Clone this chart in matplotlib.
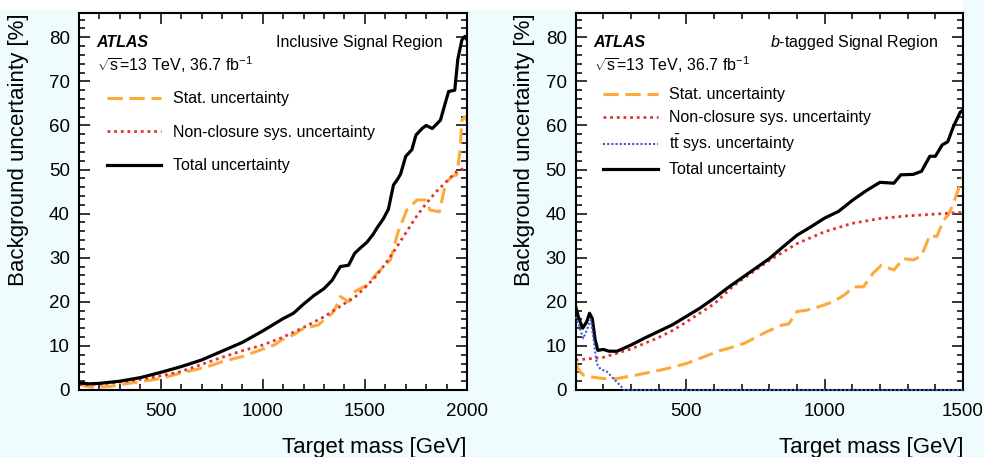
import matplotlib
matplotlib.use("Agg")
import matplotlib.pyplot as plt
from matplotlib.ticker import MultipleLocator
from matplotlib.patches import Rectangle

plt.rcParams['font.family'] = ['Liberation Sans', 'DejaVu Sans']
plt.rcParams['mathtext.fontset'] = 'custom'
plt.rcParams['mathtext.rm'] = 'Liberation Sans'
plt.rcParams['mathtext.it'] = 'Liberation Sans:italic'
plt.rcParams['mathtext.bf'] = 'Liberation Sans:bold'

# ---- inclusive signal region ----
incl_mass_tot = [100, 150, 200, 300, 400, 500, 600, 700, 800, 900, 1000, 1100, 1150, 1200,
                 1250, 1300, 1340, 1360, 1380, 1420, 1450, 1480, 1510, 1540, 1560, 1590,
                 1615, 1640, 1660, 1675, 1700, 1730, 1750, 1780, 1800, 1830, 1870, 1890,
                 1910, 1940, 1955, 1975, 1990, 2000]
incl_total = [1.6, 1.4, 1.5, 2.0, 2.8, 4.0, 5.3, 6.8, 8.8, 10.8, 13.4, 16.2, 17.4, 19.5,
              21.4, 23.0, 24.9, 26.5, 28.0, 28.3, 31.0, 32.3, 33.5, 35.3, 36.8, 38.8,
              41.0, 46.5, 47.8, 49.0, 53.0, 54.5, 57.8, 59.3, 60.0, 59.3, 61.2, 64.5,
              67.7, 68.0, 75.0, 79.4, 80.2, 79.4]

incl_mass_stat = [100, 130, 170, 250, 300, 400, 500, 570, 650, 730, 800, 900, 990, 1060,
                  1090, 1150, 1200, 1270, 1340, 1360, 1380, 1420, 1450, 1510, 1560, 1625,
                  1640, 1660, 1705, 1755, 1795, 1820, 1865, 1895, 1925, 1950, 1966, 1975,
                  1990, 2000]
incl_stat = [1.4, 0.9, 0.6, 0.8, 1.2, 1.9, 2.6, 3.5, 4.4, 5.3, 6.4, 7.6, 9.1, 10.3,
             11.3, 12.5, 14.0, 14.7, 17.4, 19.0, 21.2, 20.0, 22.3, 23.8, 26.5, 29.5,
             32.0, 35.5, 40.8, 43.1, 43.1, 40.8, 40.4, 46.9, 48.4, 48.8, 54.4, 61.2,
             62.0, 61.0]

incl_mass_nc = [100, 200, 300, 400, 500, 600, 700, 800, 900, 1000, 1100, 1200, 1300, 1400,
                1450, 1500, 1550, 1600, 1650, 1700, 1750, 1800, 1850, 1900, 1950, 2000]
incl_nonclosure = [1.2, 1.3, 1.8, 2.4, 3.2, 4.2, 5.8, 7.4, 8.9, 10.2, 12.0, 14.2, 16.6, 19.6,
                   21.0, 23.2, 25.6, 28.6, 32.0, 35.6, 39.2, 42.3, 45.0, 47.3, 49.6, 50.5]

# ---- b-tagged signal region ----
btag_mass_tot = [100, 110, 125, 140, 150, 160, 170, 180, 200, 220, 250, 300, 350, 400, 450,
                 500, 550, 600, 650, 700, 750, 800, 850, 900, 950, 1000, 1050, 1100, 1150,
                 1200, 1250, 1275, 1320, 1350, 1380, 1400, 1425, 1445, 1465, 1490, 1500]
btag_total = [18.9, 16.5, 14.0, 15.5, 17.4, 16.2, 11.5, 9.0, 9.2, 8.8, 8.8, 10.2, 11.8, 13.3,
              14.8, 16.7, 18.6, 20.8, 23.2, 25.4, 27.6, 29.8, 32.5, 35.1, 37.0, 39.0, 40.5,
              43.0, 45.2, 47.1, 46.9, 48.8, 48.9, 49.6, 53.0, 53.0, 55.6, 56.3, 59.7, 63.0,
              63.5]

btag_mass_stat = [100, 115, 127, 150, 200, 250, 320, 420, 500, 550, 620, 650, 710, 790, 845,
                  870, 900, 935, 980, 1030, 1070, 1105, 1140, 1175, 1205, 1250, 1285, 1320,
                  1350, 1380, 1405, 1430, 1447, 1465, 1500]
btag_stat = [6.0, 4.2, 3.4, 3.0, 2.6, 2.6, 3.4, 4.7, 6.0, 7.2, 8.9, 9.4, 10.6, 13.2, 14.7,
             15.0, 17.8, 18.1, 18.9, 20.0, 21.5, 23.4, 23.4, 26.5, 28.3, 27.2, 29.8, 29.5,
             30.4, 35.1, 34.8, 38.5, 39.7, 42.3, 48.4]

btag_mass_nc = [100, 200, 300, 400, 450, 500, 550, 600, 670, 700, 800, 900, 1000, 1100,
                1200, 1300, 1400, 1500]
btag_nonclosure = [6.8, 7.4, 9.3, 11.9, 13.5, 15.4, 17.5, 19.5, 23.6, 25.0, 29.4, 33.2, 35.9,
                   37.8, 38.9, 39.5, 39.9, 40.3]

btag_mass_tt = [100, 110, 120, 127, 140, 150, 155, 165, 176, 190, 212, 236, 260, 275, 1500]
btag_ttbar = [16.6, 15.0, 13.0, 11.7, 13.5, 15.5, 15.9, 11.3, 6.0, 4.7, 4.2, 2.6, 1.1, 0.0, 0.0]

ORANGE = '#fda93c'
RED = '#e3342b'
BLUE = '#3a5ad0'

stat_kw = dict(color=ORANGE, lw=2.2, dashes=(5, 2.2), label='Stat. uncertainty')
nc_kw = dict(color=RED, lw=2.0, linestyle=(0, (1, 1.4)), label='Non-closure sys. uncertainty')
# ttbar curve sits on the x axis above ~280 GeV, keep it drawn over the frame
tt_kw = dict(color=BLUE, lw=1.5, linestyle=(0, (1, 1)), clip_on=False, zorder=3,
             label=r'$\mathrm{t\bar{t}}$ sys. uncertainty')
tot_kw = dict(color='black', lw=2.3, label='Total uncertainty')

fig = plt.figure(figsize=(9.84, 4.57), dpi=100, facecolor='#effcfd')
fig.patches.append(Rectangle((0, 447 / 457), 963 / 984, 10 / 457, transform=fig.transFigure,
                             facecolor='white', edgecolor='none', zorder=0))

ax1 = fig.add_axes([79 / 984, 67 / 457, 388 / 984, 377 / 457])
ax2 = fig.add_axes([575.7 / 984, 67 / 457, 387.3 / 984, 377 / 457])

ax1.plot(incl_mass_stat, incl_stat, **stat_kw)
ax1.plot(incl_mass_nc, incl_nonclosure, **nc_kw)
ax1.plot(incl_mass_tot, incl_total, **tot_kw)

ax2.plot(btag_mass_stat, btag_stat, **stat_kw)
ax2.plot(btag_mass_nc, btag_nonclosure, **nc_kw)
ax2.plot(btag_mass_tt, btag_ttbar, **tt_kw)
ax2.plot(btag_mass_tot, btag_total, **tot_kw)

ax1.set_xlim(100, 2000)
ax2.set_xlim(100, 1500)

for ax, lab_x, leg_y, leg_sp, region in [
        (ax1, -0.129, 0.792, 1.15, 'Inclusive Signal Region'),
        (ax2, -0.105, 0.803, 0.5, r'$b$-tagged Signal Region')]:
    ax.set_ylim(0, 85.5)
    ax.xaxis.set_major_locator(MultipleLocator(500))
    ax.xaxis.set_minor_locator(MultipleLocator(100))
    ax.yaxis.set_major_locator(MultipleLocator(10))
    ax.yaxis.set_minor_locator(MultipleLocator(2))
    ax.tick_params(which='both', direction='in', top=True, right=True, width=1.1)
    ax.tick_params(which='major', length=8, labelsize=13.5)
    ax.tick_params(which='minor', length=4)
    ax.tick_params(axis='x', pad=9)
    ax.tick_params(axis='y', pad=6.5)
    for sp in ax.spines.values():
        sp.set_linewidth(1.5)

    ax.set_xlabel('Target mass [GeV]', fontsize=16, loc='right')
    ax.xaxis.set_label_coords(1.0, -0.125)
    ax.set_ylabel('Background uncertainty [%]', fontsize=16, loc='top')
    ax.yaxis.set_label_coords(lab_x, 1.0)

    ax.text(0.045, 0.911, 'ATLAS', transform=ax.transAxes, fontsize=11.5,
            fontweight='bold', fontstyle='italic', va='baseline')
    ax.text(0.046, 0.847, r'$\sqrt{\mathrm{s}}$=13 TeV, 36.7 fb$^{-1}$', transform=ax.transAxes,
            fontsize=11.5, va='baseline')
    ax.text(0.936, 0.911, region, transform=ax.transAxes, fontsize=11.5,
            ha='right', va='baseline')

    ax.legend(loc='upper left', bbox_to_anchor=(0.071, leg_y), frameon=False,
              fontsize=11.5, handlelength=3.4, handletextpad=0.75,
              labelspacing=leg_sp, borderpad=0, borderaxespad=0)

fig.savefig('out.png', dpi=100, facecolor=fig.get_facecolor())
